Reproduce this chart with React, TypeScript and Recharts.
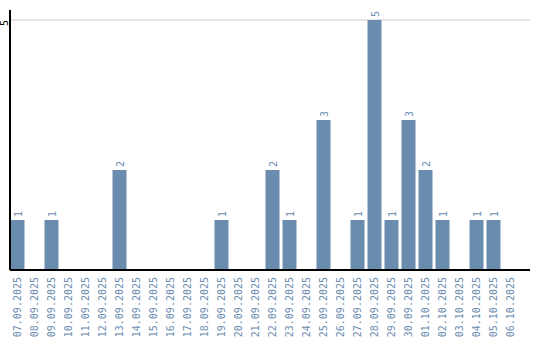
import { BarChart, Bar, XAxis, YAxis, CartesianGrid, LabelList, Rectangle } from "recharts";

const DATES = [
  "07.09.2025", "08.09.2025", "09.09.2025", "10.09.2025", "11.09.2025", "12.09.2025",
  "13.09.2025", "14.09.2025", "15.09.2025", "16.09.2025", "17.09.2025", "18.09.2025",
  "19.09.2025", "20.09.2025", "21.09.2025", "22.09.2025", "23.09.2025", "24.09.2025",
  "25.09.2025", "26.09.2025", "27.09.2025", "28.09.2025", "29.09.2025", "30.09.2025",
  "01.10.2025", "02.10.2025", "03.10.2025", "04.10.2025", "05.10.2025", "06.10.2025",
];
const COUNTS = [1, 0, 1, 0, 0, 0, 2, 0, 0, 0, 0, 0, 1, 0, 0, 2, 1, 0, 3, 0, 1, 5, 1, 3, 2, 1, 0, 1, 1, 0];
const Y_TICKS = [5];

const BAR_COLOR = "#6a8caf";
const FONT = "'DejaVu Sans Mono', monospace";

const data = DATES.map((d, i) => ({ date: d, count: COUNTS[i] }));

// bars sit at the left of each band, not centred
function LeftBar(props: any) {
  return <Rectangle {...props} x={props.x - 1.5} />;
}

function XTick({ x, payload }: any) {
  const bx = x + 2.5;
  const by = 277;
  return (
    <text x={bx} y={by} transform={`rotate(-90 ${bx} ${by})`} textAnchor="end" fontFamily={FONT} fontSize={10} fill={BAR_COLOR}>
      {payload.value}
    </text>
  );
}

function YTick({ y, payload }: any) {
  const ty = y + 6;
  return (
    <text x={8} y={ty} transform={`rotate(-90 8 ${ty})`} textAnchor="start" fontFamily={FONT} fontSize={10} fill="#000">
      {payload.value}
    </text>
  );
}

function ValueLabel({ x, y, width, value }: any) {
  if (!value) return null;
  const lx = x - 1.5 + width / 2 + 4;
  const ly = y - 3;
  return (
    <text x={lx} y={ly} transform={`rotate(-90 ${lx} ${ly})`} textAnchor="start" fontFamily={FONT} fontSize={10} fill={BAR_COLOR}>
      {value}
    </text>
  );
}

export default function App() {
  return (
    <div style={{ position: "absolute", left: 0, top: 0, width: 540, height: 340, background: "#fff" }}>
      <BarChart width={540} height={340} data={data} margin={{ top: 10, right: 10, left: 0, bottom: 0 }} barSize={14}>
        <CartesianGrid vertical={false} stroke="#cccccc" horizontalValues={Y_TICKS} />
        <XAxis
          dataKey="date"
          interval={0}
          height={70}
          padding={{ left: 0, right: 10 }}
          tickLine={false}
          axisLine={{ stroke: "#000", strokeWidth: 2 }}
          tick={<XTick />}
        />
        <YAxis
          width={10}
          domain={[0, 5.2]}
          ticks={Y_TICKS}
          tickLine={false}
          axisLine={{ stroke: "#000", strokeWidth: 2 }}
          tick={<YTick />}
        />
        <Bar dataKey="count" fill={BAR_COLOR} isAnimationActive={false} shape={<LeftBar />}>
          <LabelList dataKey="count" content={<ValueLabel />} />
        </Bar>
      </BarChart>
    </div>
  );
}
